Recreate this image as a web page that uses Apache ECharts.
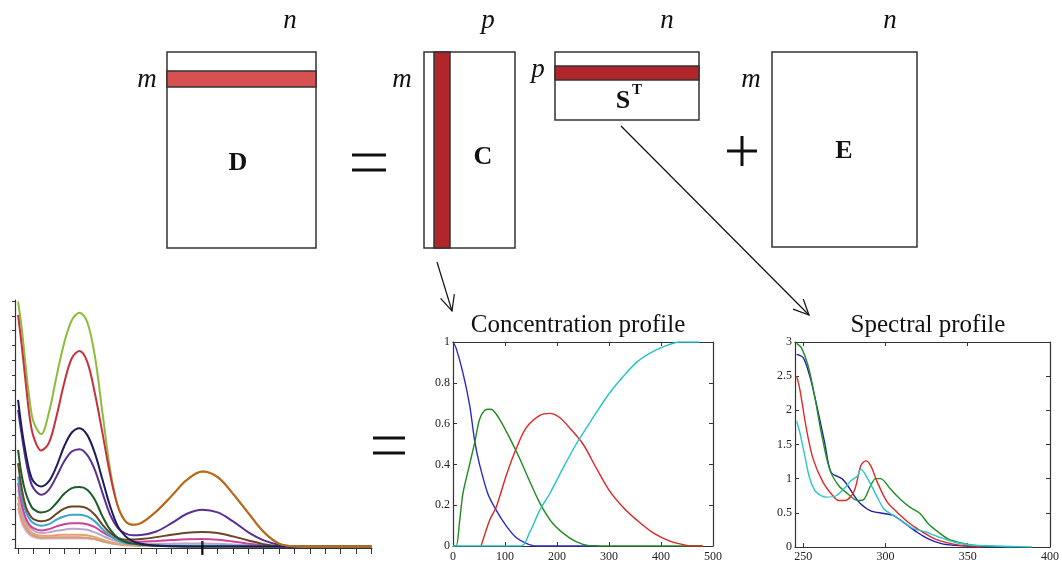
<!DOCTYPE html>
<html><head><meta charset="utf-8">
<script src="https://cdn.jsdelivr.net/npm/echarts@6/dist/echarts.min.js"></script>
<style>html,body{margin:0;padding:0;background:#fff}#c{width:1062px;height:563px}</style>
</head><body><div id="c"></div>
<script>
// ---------- Bottom-left: mixture spectra (x, y in tick units) ----------
const blX = [0,0.25,0.5,0.75,1,1.5,2,2.5,3,3.5,4,4.5,5,5.5,6,6.5,7,7.5,8,9,10,11,12,13,14,15,16,17,18,20,23];
const blGreen   = [15.95,14.05,11.6,9.35,7.9,7.05,8.46,10.9,13.15,14.7,15.2,14.6,12.3,8.46,4.65,2.2,1.19,0.96,1.07,1.86,2.9,3.98,4.54,4.16,3.04,1.74,0.47,-0.31,-0.48,-0.5,-0.5];
const blRed     = [15.06,12.9,10.47,8.23,6.9,5.95,6.44,8.23,10.47,12.15,12.64,11.92,9.8,7.1,4.3,2.2,1.19,0.96,1.07,1.86,2.9,3.98,4.54,4.16,3.04,1.74,0.47,-0.31,-0.48,-0.5,-0.5];
const blNavy    = [9.35,7.34,5.77,4.54,3.87,3.53,3.87,4.88,6.22,7.16,7.45,7.0,5.77,3.98,2.19,0.85,0.18,-0.16,-0.31,-0.45,-0.49,-0.5,-0.5,-0.5,-0.5,-0.5,-0.5,-0.5,-0.5,-0.5,-0.5];
const blPurple  = [8.68,6.9,5.32,4.09,3.42,2.98,3.31,4.2,5.21,5.88,6.04,5.66,4.65,3.09,1.63,0.74,0.36,0.25,0.27,0.51,1.07,1.7,1.97,1.79,1.19,0.45,-0.09,-0.38,-0.49,-0.5,-0.5];
const blDkGreen = [6.0,4.2,3.09,2.42,2.01,1.79,1.92,2.42,3.04,3.42,3.49,3.31,2.64,1.52,0.63,0.07,-0.2,-0.3,-0.38,-0.44,-0.49,-0.5,-0.5,-0.5,-0.5,-0.5,-0.5,-0.5,-0.5,-0.5,-0.5];
const blBrown   = [5.1,3.31,2.19,1.63,1.34,1.19,1.3,1.7,2.04,2.19,2.19,2.06,1.63,0.96,0.4,0.07,-0.04,-0.03,0.0,0.13,0.29,0.43,0.47,0.4,0.18,-0.09,-0.34,-0.47,-0.49,-0.5,-0.5];
const blCyan    = [4.2,2.75,1.86,1.34,1.07,0.89,1.0,1.3,1.52,1.63,1.63,1.52,1.19,0.67,0.22,-0.09,-0.27,-0.33,-0.38,-0.42,-0.45,-0.45,-0.45,-0.45,-0.46,-0.47,-0.48,-0.49,-0.5,-0.5,-0.5];
const blMagenta = [3.76,2.3,1.41,0.96,0.74,0.58,0.67,0.85,1.0,1.07,1.07,1.0,0.8,0.47,0.18,-0.04,-0.16,-0.18,-0.18,-0.13,-0.07,-0.02,0.0,-0.04,-0.16,-0.31,-0.43,-0.49,-0.5,-0.5,-0.5];
const blLavender= [3.31,1.97,1.19,0.8,0.58,0.4,0.45,0.56,0.63,0.69,0.67,0.63,0.45,0.22,0.0,-0.16,-0.27,-0.3,-0.31,-0.31,-0.31,-0.3,-0.29,-0.31,-0.36,-0.42,-0.47,-0.49,-0.5,-0.5,-0.5];
const blPeach   = [2.86,1.63,0.96,0.58,0.36,0.22,0.22,0.27,0.29,0.29,0.29,0.25,0.13,-0.04,-0.2,-0.31,-0.38,-0.41,-0.43,-0.44,-0.45,-0.45,-0.45,-0.46,-0.47,-0.48,-0.49,-0.5,-0.5,-0.5,-0.5];
const blTan     = [2.42,1.3,0.74,0.4,0.22,0.11,0.11,0.12,0.13,0.13,0.13,0.09,0.0,-0.16,-0.27,-0.34,-0.4,-0.42,-0.44,-0.45,-0.46,-0.46,-0.46,-0.47,-0.47,-0.48,-0.49,-0.5,-0.5,-0.5,-0.5];
const blPink    = [2.08,1.07,0.58,0.29,0.13,0.02,0.04,0.04,0.04,0.04,0.04,0.03,0.0,-0.13,-0.27,-0.36,-0.42,-0.44,-0.46,-0.47,-0.47,-0.47,-0.47,-0.48,-0.48,-0.49,-0.5,-0.5,-0.5,-0.5,-0.5];
const blXTicks = [0,1,2,3,4,5,6,7,8,9,10,11,12,13,14,15,16,17,18,19,20,21,22,23];
const blYTicks = [0,1,2,3,4,5,6,7,8,9,10,11,12,13,14,15,16];
const blCenterMark = [[12, -0.6]];

// ---------- Concentration profile ----------
const concBlueX  = [0,6,19,32,42,51,67,83,103,122,141,160,280];
const concBlueY  = [1,0.97,0.85,0.69,0.51,0.4,0.256,0.176,0.096,0.04,0.013,0,0];
const concGreenX = [0,6,13,19,32,42,51,61,70,77,90,109,128,147,167,192,224,250,276,480];
const concGreenY = [0,0,0.128,0.256,0.4,0.51,0.62,0.665,0.67,0.665,0.62,0.53,0.43,0.32,0.21,0.11,0.04,0.008,0,0];
const concRedX   = [54,71,83,103,122,141,167,186,205,224,250,276,301,327,353,385,417,449,462,480];
const concRedY   = [0,0.13,0.19,0.35,0.48,0.58,0.64,0.65,0.63,0.58,0.5,0.38,0.27,0.19,0.128,0.064,0.024,0.003,0,0];
const concCyanX  = [0,131,147,167,186,212,237,256,276,301,327,353,378,404,436,474];
const concCyanY  = [0,0,0.064,0.176,0.256,0.384,0.5,0.576,0.656,0.75,0.83,0.9,0.944,0.976,1,1];

// ---------- Spectral profile ----------
const specBlueX  = [246,250,254,257,260,263,267,273.5,277,281,285,291,299,305,311,319,326,334,342,352,370,380];
const specBlueY  = [2.82,2.77,2.5,2.2,1.87,1.53,1.09,1.0,0.9,0.75,0.63,0.53,0.49,0.46,0.36,0.22,0.12,0.05,0.024,0.01,0,0];
const specGreenX = [246,249,253,257,261,266,271.5,277,283,287,291,294,297,303,309,315,321,326,332,338,346,354,366,377];
const specGreenY = [2.98,2.91,2.65,2.2,1.67,1.14,0.9,0.78,0.68,0.7,0.9,1.0,1.0,0.85,0.7,0.58,0.49,0.34,0.22,0.12,0.06,0.024,0.01,0];
const specRedX   = [246,248,252,256,262,268,271.5,275.5,281,285,288,291,295,301,307,315,322.5,330,338,346,358];
const specRedY   = [2.5,2.3,1.72,1.29,0.95,0.75,0.68,0.68,0.82,1.19,1.26,1.19,0.95,0.66,0.51,0.34,0.22,0.12,0.06,0.024,0];
const specCyanX  = [246,248,251,254,258,264,270,275.5,279,283,285,287,291,295,299,305,311,317,324.5,332,342,352,366,389];
const specCyanY  = [1.84,1.67,1.33,1.0,0.8,0.73,0.75,0.87,0.97,1.04,1.14,1.09,0.92,0.73,0.56,0.46,0.36,0.27,0.22,0.15,0.07,0.03,0.015,0];
const specXTicks = [250,300,350,400];

const SERIF = '"Liberation Serif","DejaVu Serif",serif';
const zip = (xs, ys) => xs.map((x, i) => [x, ys[i]]);

// red spectrum: red over its first peak, orange-brown where it runs with the green one
const redTail = { type: 'linear', x: 0, y: 0, x2: 1, y2: 0, colorStops: [
  { offset: 0, color: '#c8303c' }, { offset: 0.27, color: '#c8303c' },
  { offset: 0.29, color: '#c4621e' }, { offset: 1, color: '#c4621e' }] };

const blSeries = [
  ['pink', blPink, '#eeaabb'], ['tan', blTan, '#c9a07c'], ['peach', blPeach, '#e8a070'],
  ['lavender', blLavender, '#b8a8c4'], ['magenta', blMagenta, '#d0409a'], ['cyan', blCyan, '#3aa6c8'],
  ['brown', blBrown, '#6a4424'], ['dkgreen', blDkGreen, '#1d5a2c'], ['purple', blPurple, '#5a3090'],
  ['navy', blNavy, '#1c1c5c'], ['green', blGreen, '#8cbc3c'], ['red', blRed, redTail]
];

const series = [];
blSeries.forEach(([name, ys, color]) => {
  series.push({ name, type: 'line', xAxisIndex: 0, yAxisIndex: 0, data: zip(blX, ys),
    smooth: 0.35, showSymbol: false, lineStyle: { color, width: 2 } });
});
series.push({ type: 'scatter', xAxisIndex: 0, yAxisIndex: 0, data: blCenterMark, symbol: 'rect',
  symbolSize: [2.5, 14], itemStyle: { color: '#000' }, silent: true, z: 5 });

[[concBlueX, concBlueY, '#2a2ac8'], [concGreenX, concGreenY, '#1f8a1f'],
 [concRedX, concRedY, '#e02424'], [concCyanX, concCyanY, '#22c4c4']].forEach(([xs, ys, c]) => {
  series.push({ type: 'line', xAxisIndex: 1, yAxisIndex: 1, data: zip(xs, ys), smooth: 0.3,
    showSymbol: false, lineStyle: { color: c, width: 1.4 }, itemStyle: { color: c } });
});
[[specBlueX, specBlueY, '#2020b0'], [specGreenX, specGreenY, '#1f8f1f'],
 [specRedX, specRedY, '#e02828'], [specCyanX, specCyanY, '#2cc6c6']].forEach(([xs, ys, c]) => {
  series.push({ type: 'line', xAxisIndex: 3, yAxisIndex: 3, data: zip(xs, ys), smooth: 0.3,
    showSymbol: false, lineStyle: { color: c, width: 1.4 }, itemStyle: { color: c } });
});

const axLine = { show: true, onZero: false, lineStyle: { color: '#333', width: 1.2 } };
const lab = { fontFamily: SERIF, fontSize: 12, color: '#222' };

// ---------- diagram helpers ----------
const INK = '#111';
function box(x, y, w, h, fill) {
  return { type: 'rect', shape: { x, y, width: w, height: h }, style: { fill, stroke: '#333', lineWidth: 1.5 } };
}
function txt(t, x, y, font) {
  return { type: 'text', x, y, style: { text: t, font, fill: INK, align: 'center', verticalAlign: 'middle', textAlign: 'center', textVerticalAlign: 'middle' } };
}
function seg(x1, y1, x2, y2, w) {
  return { type: 'line', shape: { x1, y1, x2, y2 }, style: { stroke: INK, lineWidth: w } };
}
function arrow(x1, y1, x2, y2) {
  const dx = x2 - x1, dy = y2 - y1, L = Math.hypot(dx, dy);
  const ux = -dx / L, uy = -dy / L, a = 25 * Math.PI / 180, len = 17;
  const p1 = [x2 + len * (ux * Math.cos(a) - uy * Math.sin(a)), y2 + len * (ux * Math.sin(a) + uy * Math.cos(a))];
  const p2 = [x2 + len * (ux * Math.cos(-a) - uy * Math.sin(-a)), y2 + len * (ux * Math.sin(-a) + uy * Math.cos(-a))];
  return [seg(x1, y1, x2, y2, 1.2),
    { type: 'polyline', shape: { points: [p1, [x2, y2], p2] }, style: { stroke: INK, lineWidth: 1.2, fill: null } }];
}
const IT = 'italic 27px ' + SERIF;
const BD = 'bold 26px ' + SERIF;
const graphics = [
  box(167, 52, 149, 196, '#fff'), box(167, 71, 149, 16, '#d65252'),
  box(424, 52, 91, 196, '#fff'), box(434, 52, 16, 196, '#b1262b'),
  box(555, 52, 144, 68, '#fff'), box(555, 66, 144, 14, '#b1262b'),
  box(772, 52, 145, 195, '#fff'),
  txt('n', 290, 21, IT), txt('m', 147, 80, IT), txt('D', 238, 163, BD),
  txt('p', 488, 21, IT), txt('m', 402, 80, IT), txt('C', 483, 157, BD),
  txt('n', 667, 21, IT), txt('p', 538, 70, IT), txt('S', 623, 101, BD), txt('T', 637, 90, 'bold 15px ' + SERIF),
  txt('n', 890, 21, IT), txt('m', 751, 80, IT), txt('E', 844, 151, BD),
  seg(352, 155, 386, 155, 3), seg(352, 170, 386, 170, 3),
  seg(727, 151, 757, 151, 3), seg(742, 136, 742, 166, 3),
  seg(373, 438, 405, 438, 3), seg(373, 453, 405, 453, 3),
  ...arrow(437, 262, 452, 311), ...arrow(621, 126, 809, 315),
  txt('Concentration profile', 578, 325, '25px ' + SERIF),
  txt('Spectral profile', 928, 325, '25px ' + SERIF)
];

const chart = echarts.init(document.getElementById('c'), null, { renderer: 'canvas' });
chart.setOption({
  animation: false,
  backgroundColor: '#fff',
  grid: [
    { left: 15, top: 300, width: 357, height: 248 },
    { left: 453, top: 342, width: 260, height: 208 },
    { left: 795, top: 342, width: 263, height: 206 }
  ],
  xAxis: [
    { type: 'value', gridIndex: 0, min: -0.2, max: 23.05, axisLine: axLine,
      axisTick: { show: true, customValues: blXTicks, length: 6, lineStyle: { color: '#333' } },
      axisLabel: { show: false }, splitLine: { show: false } },
    { type: 'value', gridIndex: 1, min: 0, max: 500, interval: 100, axisLine: axLine,
      axisTick: { inside: true, length: 4 }, axisLabel: Object.assign({ margin: 5 }, lab), splitLine: { show: false } },
    { type: 'value', gridIndex: 1, position: 'top', min: 0, max: 500, interval: 100, axisLine: axLine,
      axisTick: { inside: true, length: 4 }, axisLabel: { show: false }, splitLine: { show: false } },
    { type: 'value', gridIndex: 2, min: 245, max: 400, axisLine: axLine,
      axisTick: { inside: true, length: 4, customValues: specXTicks },
      axisLabel: Object.assign({ margin: 4, customValues: specXTicks }, lab), splitLine: { show: false } },
    { type: 'value', gridIndex: 2, position: 'top', min: 245, max: 400, axisLine: axLine,
      axisTick: { inside: true, length: 4, customValues: specXTicks }, axisLabel: { show: false }, splitLine: { show: false } }
  ],
  yAxis: [
    { type: 'value', gridIndex: 0, min: -0.6, max: 16.06, axisLine: axLine,
      axisTick: { show: true, customValues: blYTicks, length: 3, lineStyle: { color: '#333' } },
      axisLabel: { show: false }, splitLine: { show: false } },
    { type: 'value', gridIndex: 1, min: 0, max: 1, interval: 0.2, axisLine: axLine,
      axisTick: { inside: true, length: 4 }, axisLabel: Object.assign({ margin: 3 }, lab), splitLine: { show: false } },
    { type: 'value', gridIndex: 1, position: 'right', min: 0, max: 1, interval: 0.2, axisLine: axLine,
      axisTick: { inside: true, length: 4 }, axisLabel: { show: false }, splitLine: { show: false } },
    { type: 'value', gridIndex: 2, min: 0, max: 3, interval: 0.5, axisLine: axLine,
      axisTick: { inside: true, length: 4 }, axisLabel: Object.assign({ margin: 3 }, lab), splitLine: { show: false } },
    { type: 'value', gridIndex: 2, position: 'right', min: 0, max: 3, interval: 0.5, axisLine: axLine,
      axisTick: { inside: true, length: 4 }, axisLabel: { show: false }, splitLine: { show: false } }
  ],
  series,
  graphic: { elements: graphics }
});
</script>
</body></html>
